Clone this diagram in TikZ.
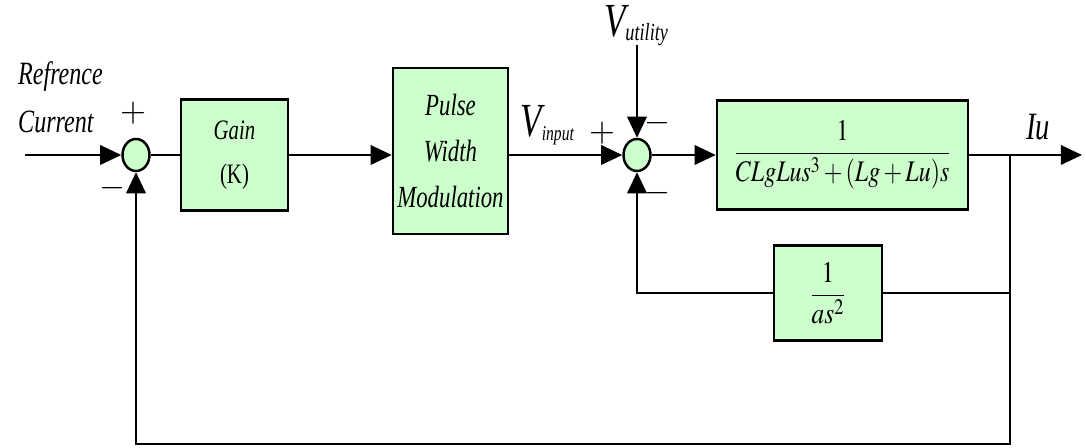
\documentclass[tikz,border=0pt]{standalone}
\usepackage{amsmath}
\usepackage{mathptmx}
\usepackage{fontspec}
\setmainfont{Liberation Serif}[FakeStretch=0.74]
\usetikzlibrary{arrows.meta, shapes.geometric}
\definecolor{blockfill}{HTML}{CCFFCC}

\begin{document}
\begin{tikzpicture}[
    blk/.style={
        rectangle, draw=black, fill=blockfill, line width=1.4pt,
        align=center, inner sep=0pt,
    },
    sumnode/.style={
        ellipse, draw=black, fill=blockfill, line width=1.4pt,
        minimum width=0.54cm, minimum height=0.64cm, inner sep=0pt,
    },
    wire/.style={line width=1.4pt},
    arr/.style={-{Triangle[length=12pt, width=11pt]}, line width=1.4pt},
    lab/.style={font=\fontsize{18.5}{26}\selectfont\itshape},
    sgn/.style={font=\fontsize{19}{19}\selectfont},
]
\useasboundingbox (0, 0) rectangle (21.72, 8.96);

% ============================================================ forward path
\node[sumnode] (sumA) at (2.72, 5.86) {};
\node[blk, minimum width=2.14cm, minimum height=2.22cm,
      font=\fontsize{16}{25}\selectfont] (gain) at (4.69, 5.86)
    {\textit{Gain}\\(K)};
\node[blk, minimum width=2.30cm, minimum height=3.32cm,
      font=\fontsize{17.5}{26}\selectfont\itshape] (pwm) at (9.01, 5.94)
    {Pulse\\Width\\Modulation};
\node[sumnode] (sumB) at (12.74, 5.86) {};
\node[blk, minimum width=5.02cm, minimum height=2.18cm,
      font=\fontsize{17}{17}\selectfont] (plant) at (16.85, 5.86)
    {\scalebox{0.8}[1]{$\dfrac{1}{CLgLus^{3}+(Lg+Lu)s}$}};

% ============================================================ inner loop
\node[blk, minimum width=2.16cm, minimum height=1.90cm,
      font=\fontsize{17}{17}\selectfont] (fb) at (16.56, 3.10)
    {\scalebox{0.85}[1]{$\dfrac{1}{as^{2}}$}};

\coordinate (in) at (0.50, 5.86);
\coordinate (branch) at (20.20, 5.86);
\coordinate (out) at (21.64, 5.86);
\coordinate (util) at (12.74, 8.06);
\coordinate (low) at (20.20, 0.08);

% the connectors
\draw[arr] (in) -- (sumA);
\draw[wire] (sumA) -- (gain);
\draw[arr] (gain.east) -- (gain.east -| pwm.west);
\draw[arr] (pwm.east |- sumB) -- (sumB);
\draw[arr] (sumB) -- (plant);
\draw[arr] (plant) -- (out);
\draw[arr] (util) -- (sumB);
\draw[wire] (branch) |- (fb);
\draw[arr] (fb) -| (sumB);
\draw[arr] (branch) -- (low) -| (sumA);

% ============================================================ labels
\node[lab, anchor=base west] (refA) at (0.24, 7.26) {Refrence};
\node[lab, anchor=base west] (refB) at (0.24, 6.30) {Current};
\node[sgn] (pA) at (2.66, 6.70) {$+$};
\node[sgn] (mA) at (2.24, 5.20) {$-$};
\node[anchor=base west, inner sep=0pt, font=\itshape] (vin) at (10.40, 6.22)
    {{\fontsize{27}{27}\selectfont V}\raisebox{-2pt}{\fontsize{12}{12}\selectfont input}};
\node[sgn] (pB) at (12.04, 6.30) {$+$};
\node[sgn] (mB) at (13.14, 6.50) {$-$};
\node[sgn] (mC) at (13.14, 5.10) {$-$};
\node[anchor=base, inner sep=0pt, font=\itshape] (vut) at (12.72, 8.22)
    {{\fontsize{27}{27}\selectfont V}\raisebox{-2pt}{\fontsize{14}{14}\selectfont utility}};
\node[anchor=base, inner sep=0pt, font=\fontsize{22}{22}\selectfont\itshape] (iu)
    at (20.76, 6.16) {Iu};

\end{tikzpicture}
\end{document}
